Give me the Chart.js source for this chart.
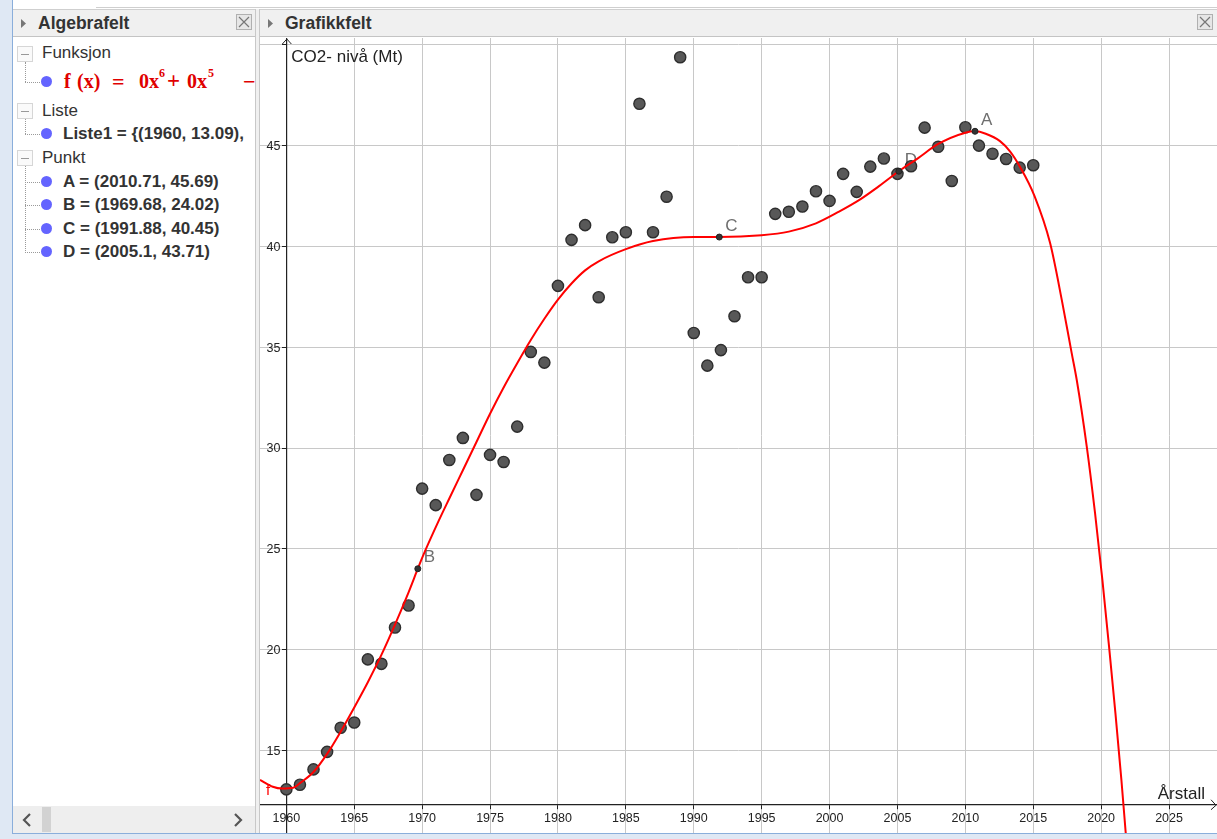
<!DOCTYPE html>
<html>
<head>
<meta charset="utf-8">
<script src="https://cdn.jsdelivr.net/npm/chart.js@4.4.0/dist/chart.umd.min.js"></script>
<style>
  body { margin:0; width:1217px; height:839px; position:relative; overflow:hidden; background:#fff;
         font-family:'Liberation Sans', Arial, sans-serif; color:#333; }
  .a { position:absolute; white-space:nowrap; }
  .hdr { background:#f0f0f0; border-top:1px solid #cfcfcf; border-bottom:1px solid #c4c4c4; height:26px; }
  .ttl { font-weight:bold; font-size:17.5px; line-height:26px; color:#333; }
  .row { font-size:17px; line-height:20px; height:20px; }
  .bold { font-weight:bold; }
  .dot { width:11px; height:11px; border-radius:50%; background:#6464ff; }
  .box { width:14px; height:14px; border:1px solid #d6d6d6; background:#fafafa; }
  .box:after { content:''; position:absolute; left:3px; top:7px; width:8px; height:1px; background:#999; }
  .vl { border-left:1px dotted #9a9a9a; width:0; }
  .hl { border-top:1px dotted #9a9a9a; height:0; }
  .red { font:bold 20px 'Liberation Serif', serif; color:#e00000; }
</style>
</head>
<body>
<!-- frame -->
<div class="a" style="left:0;top:0;width:12px;height:839px;background:#dfe8f4"></div>
<div class="a" style="left:12px;top:0;width:1px;height:834px;background:#8aaedb"></div>
<div class="a" style="left:0;top:834px;width:1217px;height:5px;background:#dfe8f4"></div>
<div class="a" style="left:12px;top:833px;width:1205px;height:1px;background:#8aaedb"></div>
<div class="a" style="left:96px;top:7px;width:1121px;height:1px;background:#cfcfcf"></div>

<!-- algebra view -->
<div class="a" style="left:13px;top:9px;width:243px;height:824px;overflow:hidden;background:#fff">
  <div class="a hdr" style="left:0;top:0;width:243px"></div>
  <svg class="a" style="left:8px;top:10px" width="6" height="9"><path d="M0 0 L5 4.5 L0 9 Z" fill="#777"/></svg>
  <div class="a ttl" style="left:25px;top:1px">Algebrafelt</div>
  <div class="a" style="left:223px;top:5px;width:14px;height:14px;border:1px solid #b0b0b0;background:#e6e6e6"></div>
  <svg class="a" style="left:224px;top:6px" width="14" height="14"><path d="M2 2 L12 12 M12 2 L2 12" stroke="#777" stroke-width="1.2"/></svg>

  <!-- Funksjon -->
  <div class="a box" style="left:4px;top:37px"></div>
  <div class="a row" style="left:29px;top:34px">Funksjon</div>
  <div class="a vl" style="left:12px;top:53px;height:20px"></div>
  <div class="a hl" style="left:12px;top:73px;width:15px"></div>
  <div class="a dot" style="left:28px;top:67px"></div>
  <div class="a red" style="left:51px;top:61px">f</div>
  <div class="a red" style="left:64px;top:61px">(x)</div>
  <div class="a red" style="left:99px;top:60px;font-size:22px">=</div>
  <div class="a red" style="left:126px;top:61px">0</div>
  <div class="a red" style="left:136px;top:61px">x</div>
  <div class="a red" style="left:146px;top:57px;font-size:12px">6</div>
  <div class="a red" style="left:154px;top:59px;font-size:23px">+</div>
  <div class="a red" style="left:174px;top:61px">0</div>
  <div class="a red" style="left:184px;top:61px">x</div>
  <div class="a red" style="left:195px;top:57px;font-size:12px">5</div>
  <div class="a red" style="left:230px;top:60px;font-size:22px">−</div>

  <!-- Liste -->
  <div class="a box" style="left:4px;top:94px"></div>
  <div class="a row" style="left:29px;top:92px">Liste</div>
  <div class="a vl" style="left:12px;top:110px;height:15px"></div>
  <div class="a hl" style="left:12px;top:125px;width:15px"></div>
  <div class="a dot" style="left:28px;top:119px"></div>
  <div class="a row bold" style="left:50px;top:115px">Liste1 = {(1960, 13.09),</div>

  <!-- Punkt -->
  <div class="a box" style="left:4px;top:141px"></div>
  <div class="a row" style="left:29px;top:139px">Punkt</div>
  <div class="a vl" style="left:12px;top:157px;height:87px"></div>
  <div class="a hl" style="left:12px;top:173px;width:15px"></div>
  <div class="a hl" style="left:12px;top:196px;width:15px"></div>
  <div class="a hl" style="left:12px;top:220px;width:15px"></div>
  <div class="a hl" style="left:12px;top:243px;width:15px"></div>
  <div class="a dot" style="left:28px;top:167px"></div>
  <div class="a dot" style="left:28px;top:190px"></div>
  <div class="a dot" style="left:28px;top:214px"></div>
  <div class="a dot" style="left:28px;top:237px"></div>
  <div class="a row bold" style="left:50px;top:163px">A = (2010.71, 45.69)</div>
  <div class="a row bold" style="left:50px;top:186px">B = (1969.68, 24.02)</div>
  <div class="a row bold" style="left:50px;top:210px">C = (1991.88, 40.45)</div>
  <div class="a row bold" style="left:50px;top:233px">D = (2005.1, 43.71)</div>

  <!-- scroll bar -->
  <div class="a" style="left:0;top:797px;width:243px;height:27px;background:#eeeeee"></div>
  <div class="a" style="left:29px;top:798px;width:9px;height:25px;background:#d2d2d2"></div>
  <svg class="a" style="left:9px;top:804px" width="10" height="14"><path d="M8 1 L2 7 L8 13" stroke="#555" stroke-width="2.2" fill="none"/></svg>
  <svg class="a" style="left:220px;top:804px" width="10" height="14"><path d="M2 1 L8 7 L2 13" stroke="#555" stroke-width="2.2" fill="none"/></svg>
</div>

<!-- divider -->
<div class="a" style="left:255px;top:9px;width:3px;height:824px;background:#f0f0f0;border-left:1px solid #c8c8c8;border-right:1px solid #c8c8c8"></div>

<!-- graphics view header -->
<div class="a hdr" style="left:260px;top:9px;width:957px"></div>
<svg class="a" style="left:268px;top:19px" width="6" height="9"><path d="M0 0 L5 4.5 L0 9 Z" fill="#777"/></svg>
<div class="a ttl" style="left:285px;top:10px">Grafikkfelt</div>
<div class="a" style="left:1197px;top:14px;width:14px;height:14px;border:1px solid #b0b0b0;background:#e6e6e6"></div>
<svg class="a" style="left:1198px;top:15px" width="14" height="14"><path d="M2 2 L12 12 M12 2 L2 12" stroke="#777" stroke-width="1.2"/></svg>

<div class="a" style="left:260px;top:38px;width:957px;height:795px">
  <canvas id="graf" width="957" height="795"></canvas>
</div>

<script>
// CO2-nivå (Mt) per årstall, Liste1
const years = [1960, 1961, 1962, 1963, 1964, 1965, 1966, 1967, 1968, 1969,
  1970, 1971, 1972, 1973, 1974, 1975, 1976, 1977, 1978, 1979,
  1980, 1981, 1982, 1983, 1984, 1985, 1986, 1987, 1988, 1989,
  1990, 1991, 1992, 1993, 1994, 1995, 1996, 1997, 1998, 1999,
  2000, 2001, 2002, 2003, 2004, 2005, 2006, 2007, 2008, 2009,
  2010, 2011, 2012, 2013, 2014, 2015];
const co2 = [13.09, 13.32, 14.08, 14.95, 16.14, 16.40, 19.53, 19.31, 21.11, 22.20,
  27.99, 27.17, 29.41, 30.50, 27.68, 29.66, 29.31, 31.06, 34.76, 34.23,
  38.03, 40.31, 41.04, 37.47, 40.44, 40.69, 47.05, 40.69, 42.45, 49.36,
  35.70, 34.08, 34.85, 36.53, 38.46, 38.46, 41.60, 41.70, 41.96, 42.72,
  42.24, 43.58, 42.69, 43.94, 44.34, 43.58, 43.96, 45.87, 44.92, 43.23,
  45.89, 44.98, 44.58, 44.32, 43.89, 44.01];

// regresjonskurven f(x)
const fitX = [1958.06, 1959, 1959.7, 1960.5, 1961, 1962, 1963, 1964, 1965, 1966,
  1967, 1968, 1969, 1969.68, 1970, 1971.25, 1972, 1973, 1974, 1975,
  1976, 1977, 1978, 1979, 1980, 1981, 1982, 1983, 1985, 1987,
  1990, 1991.88, 1995, 1997, 1999, 2000.7, 2002.2, 2003.5, 2005.1, 2006.5,
  2008, 2010, 2010.71, 2011.5, 2012.55, 2013.3, 2014.08, 2015.08, 2016.24, 2017.1,
  2017.83, 2018.2, 2018.94, 2019.55, 2020.09, 2020.58, 2021.05, 2021.49, 2021.81];
const fitY = [13.56, 13.22, 13.13, 13.17, 13.4, 13.95, 14.85, 15.95, 17.15, 18.4,
  19.75, 21.25, 22.85, 24.02, 24.56, 26.44, 27.5, 28.9, 30.3, 31.7,
  33.0, 34.2, 35.35, 36.4, 37.35, 38.15, 38.8, 39.25, 39.85, 40.25,
  40.45, 40.45, 40.54, 40.72, 41.13, 41.71, 42.29, 42.9, 43.71, 44.35,
  45.06, 45.62, 45.69, 45.57, 45.2, 44.68, 43.86, 42.5, 40.15, 37.34,
  34.7, 33.38, 30.07, 26.77, 23.47, 20.17, 16.87, 13.56, 10.92];

// punktene A-D
const pointNames = ['A', 'B', 'C', 'D'];
const pointX = [2010.71, 1969.68, 1991.88, 2005.1];
const pointY = [45.69, 24.02, 40.45, 43.71];

const xLabel = 'Årstall';
const yLabel = 'CO2- nivå (Mt)';
const axisFont = "12.5px 'Liberation Sans', Arial, sans-serif";

Chart.defaults.font.family = "'Liberation Sans', Arial, sans-serif";

function noPad(scale) {
    scale.paddingLeft = 0;
    scale.paddingRight = 0;
    scale.paddingTop = 0;
    scale.paddingBottom = 0;
}

// akse-piler, aksetitler, y-tall og navn på punkt
const decor = {
    id: 'decor',
    beforeDatasetsDraw(chart) {
        const { ctx, scales } = chart;
        ctx.save();
        ctx.fillStyle = '#6e6e6e';
        ctx.font = "17px 'Liberation Sans', Arial, sans-serif";
        ctx.textBaseline = 'alphabetic';
        pointNames.forEach((n, i) => {
            const px = scales.x.getPixelForValue(pointX[i]);
            const py = scales.y.getPixelForValue(pointY[i]);
            ctx.fillText(n, px + 6, py - 6.5);
        });
        ctx.restore();
    },
    afterDraw(chart) {
        const { ctx, scales, chartArea } = chart;
        const ax = scales.x.getPixelForValue(1960);
        const ay = scales.y.getPixelForValue(12.33);
        ctx.save();

        // tall på y-aksen
        ctx.fillStyle = '#222';
        ctx.font = axisFont;
        ctx.textAlign = 'right';
        ctx.textBaseline = 'middle';
        scales.y.ticks.forEach((t) => {
            if (t.value > 48) return;
            ctx.fillText(String(t.value), ax - 6, scales.y.getPixelForValue(t.value) + 1);
        });

        ctx.strokeStyle = '#222';
        ctx.lineWidth = 1;
        ctx.beginPath();
        ctx.moveTo(ax - 4, chartArea.top + 6);
        ctx.lineTo(ax + 0.5, chartArea.top + 1);
        ctx.lineTo(ax + 5, chartArea.top + 6);
        ctx.moveTo(chartArea.right - 6, ay - 5);
        ctx.lineTo(chartArea.right - 1, ay + 0.5);
        ctx.lineTo(chartArea.right - 6, ay + 5);
        ctx.stroke();

        ctx.fillStyle = '#222';
        ctx.font = "17px 'Liberation Sans', Arial, sans-serif";
        ctx.textBaseline = 'middle';
        ctx.textAlign = 'left';
        ctx.fillText(yLabel, ax + 5, chartArea.top + 19);
        ctx.textAlign = 'right';
        ctx.textBaseline = 'alphabetic';
        ctx.fillText(xLabel, chartArea.right - 12, ay - 6);

        // funksjonsnavn ved kurvens start
        ctx.fillStyle = '#ff0000';
        ctx.textAlign = 'left';
        ctx.font = "15px 'Liberation Sans', Arial, sans-serif";
        const fx = scales.x.getPixelForValue(fitX[0]);
        const fy = scales.y.getPixelForValue(fitY[0]);
        ctx.fillText('f', fx + 6, fy + 15);
        ctx.restore();
    }
};

const graf = new Chart(document.getElementById('graf'), {
    type: 'scatter',
    data: {
        datasets: [{
            label: 'Punkt',
            data: pointX.map((x, i) => ({ x: x, y: pointY[i] })),
            pointRadius: 3,
            pointBackgroundColor: '#333',
            pointBorderColor: '#222',
            pointBorderWidth: 1,
            order: 0
        }, {
            label: 'f',
            data: fitX.map((x, i) => ({ x: x, y: fitY[i] })),
            showLine: true,
            borderColor: '#ff0000',
            borderWidth: 2,
            pointRadius: 0,
            cubicInterpolationMode: 'monotone',
            order: 1
        }, {
            label: 'Liste1',
            data: years.map((x, i) => ({ x: x, y: co2[i] })),
            pointRadius: 5.6,
            pointBackgroundColor: '#585858',
            pointBorderColor: '#2e2e2e',
            pointBorderWidth: 1.4,
            order: 2
        }]
    },
    options: {
        responsive: false,
        animation: false,
        devicePixelRatio: 1,
        layout: { padding: 0, autoPadding: false },
        plugins: {
            legend: { display: false },
            tooltip: { enabled: false }
        },
        scales: {
            x: {
                type: 'linear',
                min: 1958.06,
                max: 2028.53,
                position: { y: 12.33 },
                afterFit: noPad,
                border: { color: '#222', width: 1.2 },
                grid: { color: '#c8c8c8', lineWidth: 1, tickLength: 4, tickColor: '#222' },
                ticks: {
                    stepSize: 5,
                    includeBounds: false,
                    color: '#222',
                    font: { size: 12.5 },
                    padding: 2,
                    maxRotation: 0,
                    autoSkip: false,
                    callback: (v) => String(v)
                }
            },
            y: {
                type: 'linear',
                min: 10.93,
                max: 50.31,
                position: { x: 1960 },
                afterFit: noPad,
                border: { color: '#222', width: 1.2 },
                grid: { color: '#c8c8c8', lineWidth: 1, tickLength: 4, tickColor: '#222' },
                ticks: {
                    display: false,
                    stepSize: 5,
                    includeBounds: false
                }
            }
        }
    },
    plugins: [decor]
});
</script>
</body>
</html>
